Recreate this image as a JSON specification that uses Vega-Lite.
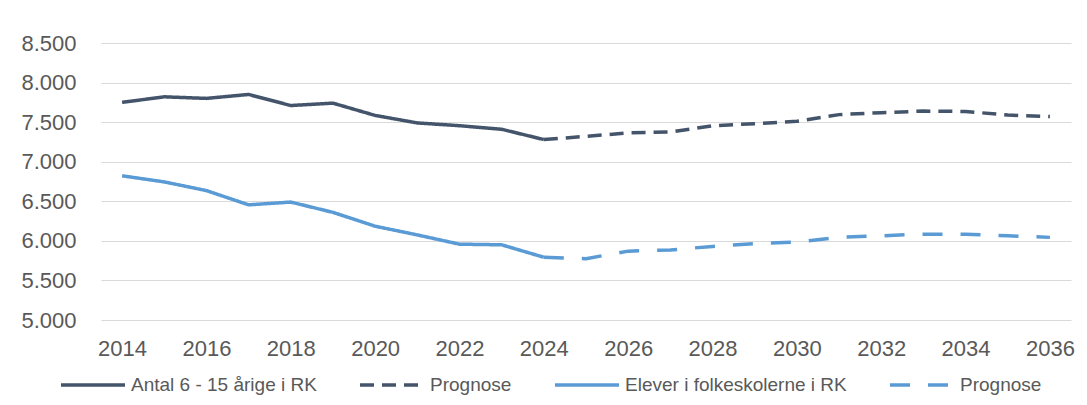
{
  "$schema": "https://vega.github.io/schema/vega-lite/v6.json",
  "width": 970,
  "height": 277,
  "autosize": {"type": "none"},
  "padding": {"left": 101, "top": 43, "right": 16, "bottom": 85},
  "background": "white",
  "config": {
    "view": {"stroke": null},
    "font": "Liberation Sans",
    "axis": {"labelFont": "Liberation Sans", "labelColor": "#595959", "labelFontSize": 22, "title": null}
  },
  "data": {
    "values": [
      {"serie": "Antal 6 - 15 årige i RK", "year": 2014, "value": 7750},
      {"serie": "Antal 6 - 15 årige i RK", "year": 2015, "value": 7820},
      {"serie": "Antal 6 - 15 årige i RK", "year": 2016, "value": 7800},
      {"serie": "Antal 6 - 15 årige i RK", "year": 2017, "value": 7850},
      {"serie": "Antal 6 - 15 årige i RK", "year": 2018, "value": 7710},
      {"serie": "Antal 6 - 15 årige i RK", "year": 2019, "value": 7740},
      {"serie": "Antal 6 - 15 årige i RK", "year": 2020, "value": 7585},
      {"serie": "Antal 6 - 15 årige i RK", "year": 2021, "value": 7490},
      {"serie": "Antal 6 - 15 årige i RK", "year": 2022, "value": 7455},
      {"serie": "Antal 6 - 15 årige i RK", "year": 2023, "value": 7410},
      {"serie": "Antal 6 - 15 årige i RK", "year": 2024, "value": 7280},
      {"serie": "Prognose", "year": 2024, "value": 7280},
      {"serie": "Prognose", "year": 2025, "value": 7320},
      {"serie": "Prognose", "year": 2026, "value": 7365},
      {"serie": "Prognose", "year": 2027, "value": 7375},
      {"serie": "Prognose", "year": 2028, "value": 7455},
      {"serie": "Prognose", "year": 2029, "value": 7480},
      {"serie": "Prognose", "year": 2030, "value": 7510},
      {"serie": "Prognose", "year": 2031, "value": 7595},
      {"serie": "Prognose", "year": 2032, "value": 7620},
      {"serie": "Prognose", "year": 2033, "value": 7640},
      {"serie": "Prognose", "year": 2034, "value": 7635},
      {"serie": "Prognose", "year": 2035, "value": 7590},
      {"serie": "Prognose", "year": 2036, "value": 7570},
      {"serie": "Elever i folkeskolerne i RK", "year": 2014, "value": 6822},
      {"serie": "Elever i folkeskolerne i RK", "year": 2015, "value": 6745},
      {"serie": "Elever i folkeskolerne i RK", "year": 2016, "value": 6635},
      {"serie": "Elever i folkeskolerne i RK", "year": 2017, "value": 6455},
      {"serie": "Elever i folkeskolerne i RK", "year": 2018, "value": 6490},
      {"serie": "Elever i folkeskolerne i RK", "year": 2019, "value": 6360},
      {"serie": "Elever i folkeskolerne i RK", "year": 2020, "value": 6185},
      {"serie": "Elever i folkeskolerne i RK", "year": 2021, "value": 6075},
      {"serie": "Elever i folkeskolerne i RK", "year": 2022, "value": 5958},
      {"serie": "Elever i folkeskolerne i RK", "year": 2023, "value": 5950},
      {"serie": "Elever i folkeskolerne i RK", "year": 2024, "value": 5793},
      {"serie": "Prognose ", "year": 2024, "value": 5793},
      {"serie": "Prognose ", "year": 2025, "value": 5775},
      {"serie": "Prognose ", "year": 2026, "value": 5870},
      {"serie": "Prognose ", "year": 2027, "value": 5885},
      {"serie": "Prognose ", "year": 2028, "value": 5930},
      {"serie": "Prognose ", "year": 2029, "value": 5965},
      {"serie": "Prognose ", "year": 2030, "value": 5985},
      {"serie": "Prognose ", "year": 2031, "value": 6044},
      {"serie": "Prognose ", "year": 2032, "value": 6064},
      {"serie": "Prognose ", "year": 2033, "value": 6085},
      {"serie": "Prognose ", "year": 2034, "value": 6085},
      {"serie": "Prognose ", "year": 2035, "value": 6064},
      {"serie": "Prognose ", "year": 2036, "value": 6044}
    ]
  },
  "mark": {"type": "line", "strokeWidth": 3.5, "strokeCap": "butt", "strokeJoin": "round"},
  "encoding": {
    "x": {
      "field": "year",
      "type": "quantitative",
      "scale": {"domain": [2013.5, 2036.5], "nice": false, "zero": false},
      "axis": {
        "values": [2014, 2016, 2018, 2020, 2022, 2024, 2026, 2028, 2030, 2032, 2034, 2036],
        "format": "d",
        "grid": false,
        "ticks": false,
        "domain": false,
        "labelPadding": 18,
        "labelFlush": false
      }
    },
    "y": {
      "field": "value",
      "type": "quantitative",
      "scale": {"domain": [5000, 8500], "nice": false, "zero": false},
      "axis": {
        "values": [5000, 5500, 6000, 6500, 7000, 7500, 8000, 8500],
        "labelExpr": "replace(format(datum.value, ',d'), ',', '.')",
        "grid": true,
        "gridColor": "#D9D9D9",
        "gridWidth": 1.2,
        "ticks": false,
        "domain": false,
        "labelPadding": 25
      }
    },
    "color": {
      "field": "serie",
      "type": "nominal",
      "scale": {
        "domain": ["Antal 6 - 15 årige i RK", "Prognose", "Elever i folkeskolerne i RK", "Prognose "],
        "range": ["#44546A", "#44546A", "#5B9BD5", "#5B9BD5"]
      },
      "legend": {
        "orient": "none",
        "legendX": -42,
        "legendY": 308,
        "direction": "horizontal",
        "columns": 4,
        "gridAlign": "none",
        "title": null,
        "symbolType": "stroke",
        "symbolSize": 4096,
        "symbolStrokeWidth": 3.5,
        "labelFontSize": 19,
        "labelLimit": 400,
        "labelFont": "Liberation Sans",
        "labelColor": "#595959",
        "labelOffset": 4,
        "columnPadding": 36,
        "padding": 0
      }
    },
    "strokeDash": {
      "field": "serie",
      "type": "nominal",
      "scale": {
        "domain": ["Antal 6 - 15 årige i RK", "Prognose", "Elever i folkeskolerne i RK", "Prognose "],
        "range": [[1, 0], [14, 8], [1, 0], [20, 18]]
      },
      "legend": {
        "orient": "none",
        "legendX": -42,
        "legendY": 308,
        "direction": "horizontal",
        "columns": 4,
        "gridAlign": "none",
        "title": null,
        "symbolType": "stroke",
        "symbolSize": 4096,
        "symbolStrokeWidth": 3.5,
        "labelFontSize": 19,
        "labelLimit": 400,
        "labelFont": "Liberation Sans",
        "labelColor": "#595959",
        "labelOffset": 4,
        "columnPadding": 36,
        "padding": 0
      }
    }
  }
}
